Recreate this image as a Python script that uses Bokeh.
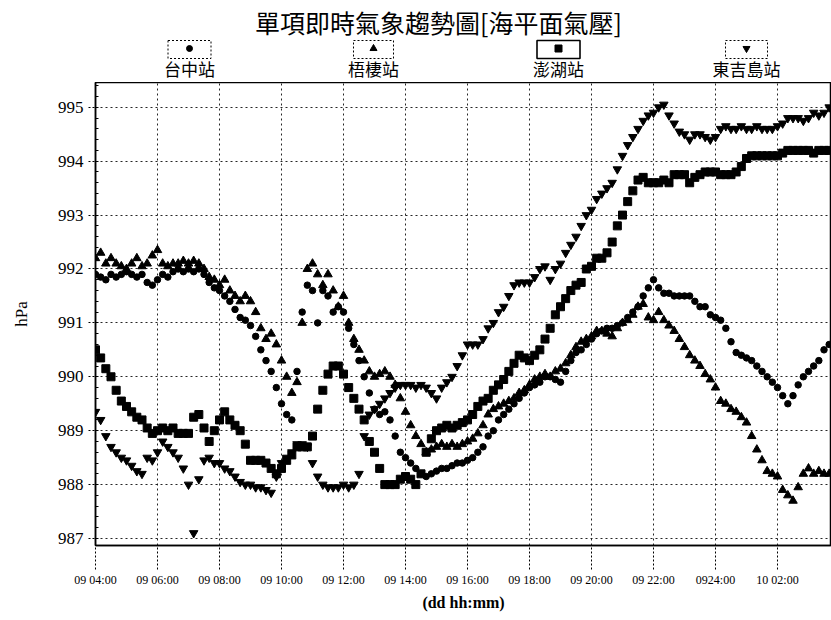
from bokeh.plotting import figure
from bokeh.layouts import column
from bokeh.models import ColumnDataSource, FixedTicker, Range1d
from bokeh.core.properties import value
from bokeh.embed import file_html
from bokeh.resources import INLINE

TITLE = "單項即時氣象趨勢圖[海平面氣壓]"
X_LABEL = "(dd hh:mm)"
Y_LABEL = "hPa"
STATIONS = ["台中站", "梧棲站", "澎湖站", "東吉島站"]
MARKERS = ["circle", "triangle", "square", "inverted_triangle"]
TICK_HOURS = [0, 2, 4, 6, 8, 10, 12, 14, 16, 18, 20, 22]
TICK_LABELS = ["09 04:00", "09 06:00", "09 08:00", "09 10:00", "09 12:00", "09 14:00",
               "09 16:00", "09 18:00", "09 20:00", "09 22:00", "0924:00", "10 02:00"]
Y_TICKS = [987, 988, 989, 990, 991, 992, 993, 994, 995]
STEP_MIN = 10  # samples every 10 minutes from 09 04:00

# 台中站 (circle)
TAICHUNG = [
    991.9, 991.85, 991.8, 991.9, 991.85, 991.9,
    991.95, 991.9, 991.85, 991.9, 991.75, 991.7,
    991.8, 991.9, 991.85, 991.95, 992.0, 991.95,
    992.0, 991.95, 992.0, 991.9, 991.75, 991.65,
    991.6, 991.5, 991.4, 991.25, 991.1, 991.05,
    990.95, 990.75, 990.5, 990.3, 990.1, 989.8,
    989.5, 989.3, 989.2, 990.1, 991.2, 991.7,
    991.6, 991.0, 991.6, 991.5, 991.2, 991.3,
    991.2, 990.9, 990.6, 990.3, 990.0, 989.7,
    989.4, 989.3, 989.35, 989.2, 988.9, 988.6,
    988.5, 988.4, 988.3, 988.2, 988.15, 988.2,
    988.25, 988.3, 988.3, 988.35, 988.4, 988.4,
    988.45, 988.5, 988.6, 988.7, 988.9, 989.0,
    989.2, 989.3, 989.4, 989.5, 989.6, 989.7,
    989.8, 989.85, 989.9, 990.0, 990.0, 989.95,
    989.9, 990.1, 990.3, 990.45, 990.5, 990.6,
    990.7, 990.8, 990.85, 990.9, 990.9, 990.95,
    991.0, 991.1, 991.2, 991.3, 991.5, 991.65,
    991.8, 991.65, 991.55, 991.55, 991.5, 991.5,
    991.5, 991.5, 991.4, 991.3, 991.3, 991.15,
    991.1, 991.05, 990.9, 990.65, 990.45, 990.4,
    990.35, 990.3, 990.2, 990.1, 990.0, 989.9,
    989.8, 989.65, 989.5, 989.65, 989.85, 990.0,
    990.1, 990.2, 990.3, 990.5, 990.6,
]

# 梧棲站 (triangle)
WUQI = [
    992.2, 992.3, 992.1, 992.2, 992.1, 992.05,
    992.0, 992.1, 992.2, 992.05, 992.1, 992.25,
    992.35, 992.1, 992.05, 992.1, 992.1, 992.15,
    992.1, 992.15, 992.1, 992.0, 991.85, 991.8,
    991.7, 991.8, 991.6, 991.5, 991.4, 991.5,
    991.4, 991.2, 990.9, 990.7, 990.8, 990.6,
    990.3, 990.0, 989.7, 989.9, 991.0, 992.0,
    992.1, 991.9, 991.7, 991.9, 991.6, 991.3,
    991.5, 991.0, 990.7, 990.5, 990.3, 990.1,
    990.0, 990.05, 990.1, 990.0, 989.85, 989.6,
    989.35, 989.1, 988.9, 988.75, 988.6, 988.65,
    988.7, 988.75, 988.7, 988.75, 988.7, 988.75,
    988.8, 988.85, 988.95, 989.1, 989.3, 989.4,
    989.45, 989.5, 989.55, 989.6, 989.7, 989.75,
    989.85, 989.95, 990.0, 990.05, 990.0, 990.1,
    990.15, 990.25, 990.4, 990.55, 990.65, 990.7,
    990.75, 990.85, 990.85, 990.8, 990.75, 990.9,
    991.0, 991.05, 991.15, 991.3, 991.35, 991.1,
    991.05, 991.2, 991.05, 990.95, 990.85, 990.7,
    990.55, 990.4, 990.3, 990.2, 990.05, 989.95,
    989.8, 989.55, 989.5, 989.4, 989.35, 989.25,
    989.15, 988.9, 988.65, 988.45, 988.25, 988.2,
    988.15, 987.9, 987.8, 987.7, 987.95, 988.2,
    988.3, 988.2, 988.25, 988.2, 988.2,
]

# 澎湖站 (square)
PENGHU = [
    990.5, 990.35, 990.15, 990.0, 989.75, 989.55,
    989.45, 989.35, 989.25, 989.2, 989.05, 988.95,
    989.0, 989.05, 989.0, 989.05, 988.95, 988.95,
    988.95, 989.25, 989.3, 989.05, 988.8, 989.0,
    989.2, 989.35, 989.2, 989.1, 989.0, 988.75,
    988.45, 988.45, 988.45, 988.4, 988.3, 988.2,
    988.3, 988.45, 988.55, 988.7, 988.7, 988.7,
    988.9, 989.4, 989.75, 990.05, 990.2, 990.2,
    990.05, 989.8, 989.6, 989.4, 989.2, 988.8,
    988.6, 988.3, 988.0, 988.0, 988.0, 988.1,
    988.15, 988.1, 988.0, 988.2, 988.6, 988.85,
    989.0, 989.05, 989.1, 989.05, 989.1, 989.15,
    989.2, 989.3, 989.45, 989.55, 989.6, 989.75,
    989.85, 989.95, 990.1, 990.25, 990.4, 990.35,
    990.3, 990.4, 990.5, 990.7, 990.9, 991.15,
    991.3, 991.45, 991.6, 991.7, 991.75, 992.0,
    992.05, 992.2, 992.2, 992.3, 992.5, 992.8,
    993.0, 993.25, 993.45, 993.65, 993.7, 993.6,
    993.6, 993.6, 993.65, 993.6, 993.75, 993.75,
    993.75, 993.6, 993.7, 993.75, 993.8, 993.8,
    993.8, 993.75, 993.75, 993.75, 993.8, 993.9,
    994.05, 994.1, 994.1, 994.1, 994.1, 994.1,
    994.1, 994.15, 994.2, 994.2, 994.2, 994.2,
    994.2, 994.15, 994.2, 994.2, 994.2,
]

# 東吉島站 (inverted triangle)
DONGJI = [
    989.35, 989.2, 988.9, 988.7, 988.6, 988.5,
    988.45, 988.35, 988.25, 988.2, 988.5, 988.45,
    988.6, 988.8, 988.7, 988.6, 988.5, 988.3,
    988.0, 987.1, 988.1, 988.45, 988.5, 988.4,
    988.4, 988.3, 988.25, 988.15, 988.05, 988.0,
    988.0, 987.95, 987.95, 987.9, 987.85, 988.15,
    988.4, 988.5, 988.6, 988.75, 988.75, 988.7,
    988.4, 988.15, 988.0, 987.95, 987.95, 987.95,
    988.0, 987.95, 988.0, 988.2, 988.9, 989.3,
    989.4, 989.5, 989.6, 989.7, 989.8, 989.85,
    989.85, 989.85, 989.8, 989.85, 989.8, 989.7,
    989.6, 989.8, 989.9, 990.0, 990.2, 990.4,
    990.6, 990.6, 990.6, 990.7, 990.9, 991.0,
    991.2, 991.3, 991.5, 991.7, 991.75, 991.75,
    991.75, 991.85, 992.0, 992.05, 991.8, 992.0,
    992.1, 992.3, 992.45, 992.6, 992.8, 993.0,
    993.1, 993.3, 993.4, 993.5, 993.6, 993.85,
    994.1, 994.3, 994.45, 994.6, 994.75, 994.85,
    994.9, 995.0, 995.05, 994.85, 994.7, 994.55,
    994.5, 994.4, 994.5, 994.5, 994.45, 994.4,
    994.45, 994.6, 994.65, 994.6, 994.6, 994.65,
    994.6, 994.6, 994.65, 994.6, 994.6, 994.6,
    994.65, 994.7, 994.8, 994.8, 994.8, 994.75,
    994.8, 994.9, 994.85, 994.9, 995.0,
]

SERIES = [TAICHUNG, WUQI, PENGHU, DONGJI]
SIZES = [6.5, 8.5, 8, 8.5]
LEG_SIZES = [6, 7, 7, 7]
HOURS = [i * STEP_MIN / 60.0 for i in range(len(TAICHUNG))]

CJK = "Noto Sans CJK TC"
SERIF = "Liberation Serif"

W = 831
LEFT = 95
HDR_H = 82
MAIN_H = 538
PX_PER_HOUR = 31.0

# ---------- header: title + legend (header data coords = page pixels) ----------
hdr = figure(width=W, height=HDR_H, x_range=Range1d(LEFT, W), y_range=Range1d(0, HDR_H),
             output_backend="svg", toolbar_location=None,
             min_border_left=LEFT, min_border_right=0, min_border_top=0, min_border_bottom=0,
             x_axis_location=None, y_axis_location=None)
hdr.grid.visible = False
hdr.outline_line_color = None
hdr.text(x=[438], y=[HDR_H - 21], text=[TITLE], text_font=value(CJK), text_font_size="25px",
         text_align="center", text_baseline="middle", text_color="black")

LEG_X = [189, 373, 558, 746]
LEG_W = [43, 40, 43, 42]
for i in range(4):
    hdr.rect(x=[LEG_X[i]], y=[HDR_H - 49], width=[LEG_W[i]], height=[18], fill_color=None,
             line_color="black", line_width=1.6 if i == 2 else 1,
             line_dash="solid" if i == 2 else "2 2")
hdr.scatter(x=LEG_X, y=[HDR_H - 48] * 4, marker=MARKERS, size=LEG_SIZES, color="black")
hdr.text(x=LEG_X, y=[HDR_H - 68] * 4, text=STATIONS, text_font=value(CJK),
         text_font_size="17px", text_align="center", text_baseline="middle",
         text_color="black")

# ---------- main chart ----------
p = figure(width=W, height=MAIN_H, x_range=Range1d(0, (W - LEFT) / PX_PER_HOUR),
           y_range=Range1d(986.87, 995.46), output_backend="svg", toolbar_location=None,
           min_border_left=LEFT, min_border_right=0, min_border_top=0, min_border_bottom=75)
p.outline_line_color = "black"
p.outline_line_width = 1.5

for vals, mk, sz in zip(SERIES, MARKERS, SIZES):
    src = ColumnDataSource(dict(x=HOURS, y=vals))
    p.scatter("x", "y", source=src, marker=mk, size=sz, color="black")

p.xaxis.ticker = FixedTicker(ticks=TICK_HOURS)
p.xaxis.major_label_overrides = {h: lab for h, lab in zip(TICK_HOURS, TICK_LABELS)}
p.xaxis.minor_tick_line_color = None
p.xaxis.major_tick_out = 24
p.xaxis.major_tick_in = 0
p.xaxis.major_tick_line_dash = "2 2"
p.xaxis.major_label_standoff = 3
p.xaxis.major_label_text_font = SERIF
p.xaxis.major_label_text_font_size = "12px"
p.xaxis.major_label_text_color = "black"
p.xaxis.axis_label = X_LABEL
p.xaxis.axis_label_text_font = SERIF
p.xaxis.axis_label_text_font_style = "bold"
p.xaxis.axis_label_text_font_size = "16px"
p.xaxis.axis_label_text_color = "black"
p.xaxis.axis_label_standoff = 4
p.xaxis.axis_line_width = 1.5

p.yaxis.ticker = FixedTicker(ticks=Y_TICKS,
                             minor_ticks=[987 + 0.2 * k for k in range(0, 43)])
p.yaxis.major_tick_out = 7
p.yaxis.major_tick_in = 0
p.yaxis.major_tick_line_dash = "2 2"
p.yaxis.minor_tick_in = 3
p.yaxis.minor_tick_out = 0
p.yaxis.major_label_standoff = 5
p.yaxis.major_label_text_font = SERIF
p.yaxis.major_label_text_font_size = "17px"
p.yaxis.major_label_text_color = "black"
p.yaxis.axis_label = Y_LABEL
p.yaxis.axis_label_text_font = SERIF
p.yaxis.axis_label_text_font_style = "normal"
p.yaxis.axis_label_text_font_size = "17px"
p.yaxis.axis_label_text_color = "black"
p.yaxis.axis_label_standoff = 24
p.yaxis.axis_line_width = 1.5

p.grid.grid_line_color = "black"
p.grid.grid_line_dash = "2 3"
p.grid.grid_line_alpha = 0.85
p.xgrid.ticker = FixedTicker(ticks=TICK_HOURS)
p.ygrid.ticker = FixedTicker(ticks=Y_TICKS)

layout = column(hdr, p, spacing=0)
open("out.html", "w").write(file_html(layout, INLINE))
